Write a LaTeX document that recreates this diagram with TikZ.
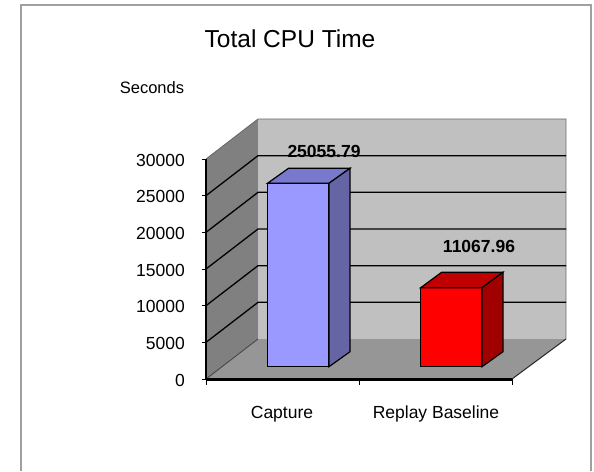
\documentclass[tikz,border=0pt]{standalone}
\usepackage{fontspec}
\setmainfont{Liberation Sans}
\definecolor{framegray}{HTML}{A0A0A0}
\definecolor{sidewall}{HTML}{808080}
\definecolor{backwall}{HTML}{C0C0C0}
\definecolor{floorgray}{HTML}{969696}
\definecolor{bluefront}{HTML}{9999FF}
\definecolor{bluetop}{HTML}{7878CC}
\definecolor{blueside}{HTML}{6565A5}
\definecolor{redfront}{HTML}{FF0000}
\definecolor{redtop}{HTML}{C00000}
\definecolor{redside}{HTML}{A00000}
\begin{document}
\begin{tikzpicture}[x=1pt,y=-1pt,
  lab/.style={font=\fontsize{17.5}{20}\selectfont, inner sep=0pt},
  vlab/.style={font=\bfseries\fontsize{17.5}{20}\selectfont, inner sep=0pt},
  gridln/.style={black, line width=1.3pt},
  barline/.style={black, line width=1.2pt, line join=miter},
  chartframe/.style={framegray, line width=2pt}]
\useasboundingbox (0,0) rectangle (594,471);
\fill[white] (0,0) rectangle (594,471);
\draw[chartframe] (21,471) -- (21,5) -- (591,5) -- (591,471);

% plot box corners: front plane and back plane (depth offset 52,-40)
\coordinate (F0) at (206,379);
\coordinate (F30) at (206,159);
\coordinate (B0) at (258,339);
\coordinate (B30) at (258,119);
\coordinate (BR0) at (566,339);
\coordinate (BR30) at (566,119);
\coordinate (FR0) at (512,379);

% walls and floor
\fill[sidewall] (F0) -- (F30) -- (B30) -- (B0) -- cycle;
\fill[backwall] (B0) -- (B30) -- (BR30) -- (BR0) -- cycle;
\fill[floorgray] (F0) -- (FR0) -- (BR0) -- (B0) -- cycle;
\draw[sidewall!80!black, line width=0.8pt] (F30) -- (B30) -- (BR30) -- (BR0);
\draw[black!75, line width=0.8pt] (F0) -- (B0);
\draw[black!85, line width=1pt] (FR0) -- (BR0);

% gridlines every 5000
\foreach \k in {1,...,5} {
  \pgfmathsetmacro\yf{379-36.667*\k}
  \pgfmathsetmacro\yb{\yf-40}
  \draw[gridln] (206,\yf) -- (258,\yb) -- (566,\yb);
}

% Capture bar
\coordinate (c1) at (267.5,366.7);
\coordinate (c2) at (329,366.7);
\coordinate (c3) at (329,183.3);
\coordinate (c4) at (267.5,183.3);
\coordinate (c5) at (288.5,168.3);
\coordinate (c6) at (350,168.3);
\coordinate (c7) at (350,351.7);
\filldraw[barline, fill=bluefront] (c1) -- (c2) -- (c3) -- (c4) -- cycle;
\filldraw[barline, fill=bluetop] (c4) -- (c3) -- (c6) -- (c5) -- cycle;
\filldraw[barline, fill=blueside] (c2) -- (c3) -- (c6) -- (c7) -- cycle;

% Replay Baseline bar
\coordinate (r1) at (420.7,366.7);
\coordinate (r2) at (482,366.7);
\coordinate (r3) at (482,287.7);
\coordinate (r4) at (420.7,287.7);
\coordinate (r5) at (441.7,272.2);
\coordinate (r6) at (503,272.2);
\coordinate (r7) at (503,351.7);
\filldraw[barline, fill=redfront] (r1) -- (r2) -- (r3) -- (r4) -- cycle;
\filldraw[barline, fill=redtop] (r4) -- (r3) -- (r6) -- (r5) -- cycle;
\filldraw[barline, fill=redside] (r2) -- (r3) -- (r6) -- (r7) -- cycle;

% axes
\draw[black, line width=1.5pt] (F30) -- (F0);
\draw[black, line width=3pt] (F0) -- (FR0);
\foreach \k in {0,...,6} {
  \pgfmathsetmacro\yf{379-36.667*\k}
  \draw[black, line width=0.8pt] (202,\yf) -- (206,\yf);
}
\foreach \xx in {206,359,512} {
  \draw[black, line width=0.8pt] (\xx,379) -- (\xx,385);
}

% axis labels
\node[lab, anchor=east] (y0) at (185,380) {0};
\node[lab, anchor=east] (y1) at (185,343.3) {5000};
\node[lab, anchor=east] (y2) at (185,306.7) {10000};
\node[lab, anchor=east] (y3) at (185,270) {15000};
\node[lab, anchor=east] (y4) at (185,233.3) {20000};
\node[lab, anchor=east] (y5) at (185,196.7) {25000};
\node[lab, anchor=east] (y6) at (185,160) {30000};
\node[lab, font=\fontsize{16.5}{18}\selectfont] (unit) at (152,88) {Seconds};
\node[lab] (cat1) at (282,414) {Capture};
\node[lab] (cat2) at (436,414) {Replay Baseline};

% value labels
\node[vlab] (v1) at (324,151) {25055.79};
\node[vlab] (v2) at (479,246.5) {11067.96};

% title
\node[inner sep=0pt, font=\fontsize{24.5}{28}\selectfont] (title) at (290,39) {Total CPU Time};
\end{tikzpicture}
\end{document}
